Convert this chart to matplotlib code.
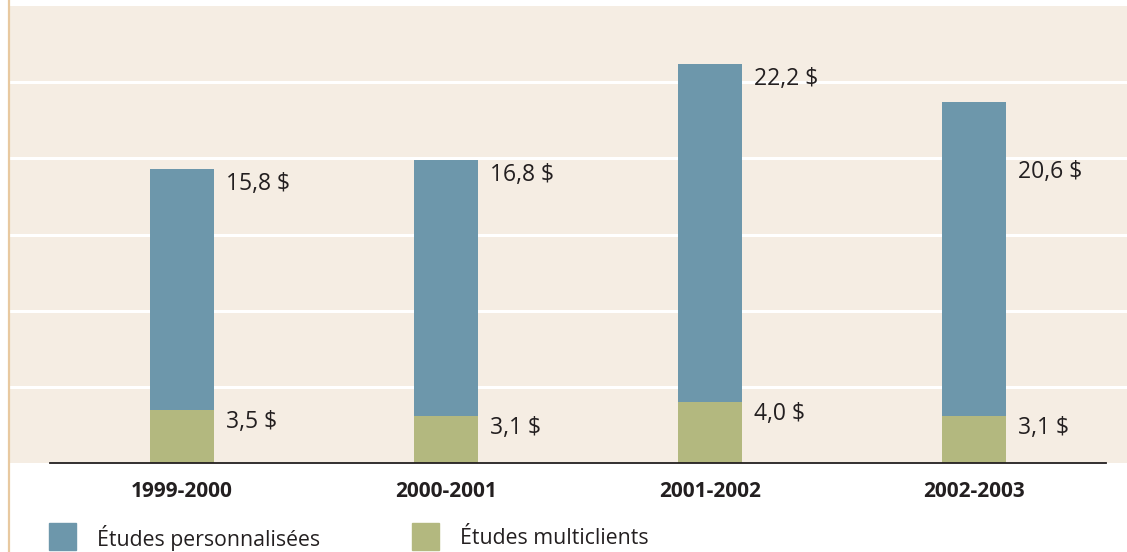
import matplotlib.pyplot as plt
from matplotlib.patches import Rectangle
from matplotlib.lines import Line2D

years = ['1999-2000', '2000-2001', '2001-2002', '2002-2003']
multi = [3.5, 3.1, 4.0, 3.1]
perso = [15.8, 16.8, 22.2, 20.6]
multi_txt = ['3,5 $', '3,1 $', '4,0 $', '3,1 $']
perso_txt = ['15,8 $', '16,8 $', '22,2 $', '20,6 $']
series = ['Études personnalisées', 'Études multiclients']

blue = '#6d97ab'
green = '#b3b87f'
beige = '#f5ede3'
dark = '#231f20'

plt.rcParams['font.family'] = ['Open Sans', 'DejaVu Sans']

W, H = 1127, 552
fig = plt.figure(figsize=(W / 100, H / 100), dpi=100)
ax = fig.add_axes([9 / W, (H - 463) / H, (W - 9) / W, 457 / H])
ax.set_facecolor(beige)

# orange rule on the left
fig.add_artist(Line2D([8.5 / W, 8.5 / W], [0, 1], color='#e8c9a0', lw=1.6))

x = list(range(len(years)))
w = 0.242
ax.bar(x, multi, w, color=green, zorder=3)
ax.bar(x, perso, w, bottom=multi, color=blue, zorder=3)

ax.set_xlim((9 - 182) / 264, (W - 182) / 264)
ax.set_ylim(0, 30)
ax.set_yticks([5, 10, 15, 20, 25])
ax.yaxis.grid(True, color='white', lw=2.2, zorder=1)
ax.tick_params(axis='y', length=0, labelleft=False)
for s in ax.spines.values():
    s.set_visible(False)

# baseline
lo, hi = ax.get_xlim()
ax.axhline(0, xmin=(-0.5 - lo) / (hi - lo), xmax=(3.5 - lo) / (hi - lo),
           color=dark, lw=1.3, zorder=4, clip_on=False)

ax.set_xticks(x)
ax.set_xticklabels(years, fontsize=15, fontweight='bold', color=dark)
ax.tick_params(axis='x', length=0, pad=13)

# value labels
top_y = [m + p - 1.0 for m, p in zip(multi, perso)]
top_y[3] = 19.1
for i in x:
    ax.annotate(perso_txt[i], (i + w / 2, top_y[i]), xytext=(8.5, 0),
                textcoords='offset points', va='center', fontsize=16.5, color=dark)
    ax.annotate(multi_txt[i], (i + w / 2, multi[i] - 0.8), xytext=(8.5, 0),
                textcoords='offset points', va='center', fontsize=16.5, color=dark)

# legend
for px, col, lab in [(49, blue, series[0]), (412, green, series[1])]:
    fig.add_artist(Rectangle((px / W, (H - 550) / H), 27 / W, 27 / H,
                             color=col, transform=fig.transFigure))
    fig.text((px + 48) / W, (H - 538) / H, lab, fontsize=15.3, color=dark,
             va='center')

fig.savefig('out.png', dpi=100)
